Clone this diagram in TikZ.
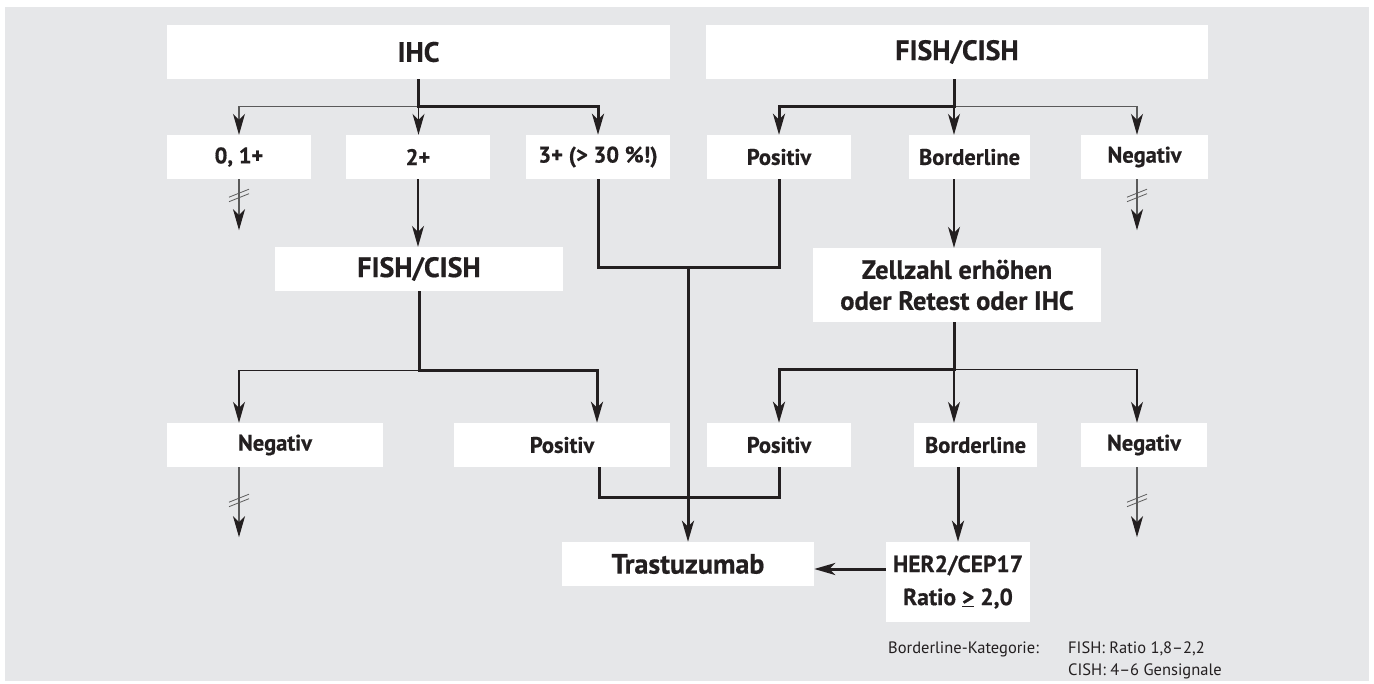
\documentclass[tikz,border=0pt]{standalone}
\usepackage{fontspec}
\setmainfont{PT Sans}
\newfontfamily\boxfont{PT Sans}[BoldFeatures={FakeBold=0.6}]
\usetikzlibrary{arrows.meta,calc}
\definecolor{bg}{HTML}{E6E7E9}
\definecolor{ink}{HTML}{231F20}
\definecolor{inkgray}{HTML}{5A5A5A}
\begin{document}
\begin{tikzpicture}[x=1pt,y=-1pt,
  wbox/.style={fill=white, draw=none, inner sep=0pt, text=ink, anchor=center,
    font=\boxfont\bfseries\fontsize{22.5}{26}\selectfont, minimum height=44pt},
  bigbox/.style={wbox, font=\boxfont\bfseries\fontsize{28}{33}\selectfont},
  legend/.style={inner sep=0pt, text=ink, anchor=base west, font=\fontsize{16.5}{19}\selectfont},
  thk/.style={draw=ink, line width=3pt, line join=miter},
  thn/.style={draw=ink, line width=1.1pt, line join=miter},
  thg/.style={draw=inkgray, line width=1.1pt, line join=miter},
  arrowhd/.style={-{Stealth[length=21pt,width=12pt,inset=6pt,color=ink]}},
  dslash/.pic={\draw[inkgray, line width=0.8pt] (-10,3) -- (10,-5) (-10,7.5) -- (10,-0.5);}
]
\useasboundingbox (0,0) rectangle (1374,684);
\fill[bg] (5,7) rectangle (1369,681);

% top row
\node[bigbox, minimum width=503pt, minimum height=54pt] (ihc) at (418.5,52) {IHC};
\node[bigbox, minimum width=502pt, minimum height=54pt] (fishtop) at (957,52) {FISH/CISH};

% second row
\node[wbox, minimum width=144pt] (r01) at (239,157) {0, 1+};
\node[wbox, minimum width=144pt] (r2) at (418,157) {2+};
\node[wbox, minimum width=144pt] (r3) at (598,157) {3+ (> 30 \%!)};
\node[wbox, minimum width=144pt] (pos1) at (779,157) {Positiv};
\node[wbox, minimum width=121pt] (bord1) at (969.5,157) {Borderline};
\node[wbox, minimum width=127pt] (neg1) at (1144.5,157) {Negativ};

% middle
\node[bigbox, minimum width=288pt] (fishmid) at (419,269) {FISH/CISH};
\node[bigbox, minimum width=288pt, minimum height=74pt, align=center,
      font=\boxfont\bfseries\fontsize{26.5}{31}\selectfont] (zell) at (957,285) {Zellzahl erhöhen\\oder Retest oder IHC};

% lower row
\node[wbox, minimum width=216pt] (neg2) at (275,445) {Negativ};
\node[wbox, minimum width=216pt] (pos2) at (562,445) {Positiv};
\node[wbox, minimum width=144pt] (pos3) at (779,445) {Positiv};
\node[wbox, minimum width=123pt] (bord2) at (975.5,445) {Borderline};
\node[wbox, minimum width=126pt] (neg3) at (1144,445) {Negativ};

% bottom
\node[bigbox, minimum width=252pt] (tras) at (688,564) {Trastuzumab};
\node[wbox, minimum width=144pt, minimum height=80pt, align=center,
      font=\boxfont\bfseries\fontsize{23.5}{33}\selectfont] (her) at (958,582) {HER2/CEP17\\Ratio \underline{>} 2,0};

% legend
\node[legend] (lg1) at (888,653) {Borderline-Kategorie:};
\node[legend] (lg2) at (1068,653) {FISH: Ratio 1,8–2,2};
\node[legend] (lg3) at (1068,675) {CISH: 4–6 Gensignale};

% ---- connectors: IHC
\coordinate (ihcb) at ($(ihc.south)+(0,27)$);
\draw[thg, arrowhd] (ihcb) -| (r01.north);
\draw[thn, arrowhd] (ihcb) -- (ihcb |- r2.north);
\draw[thk, arrowhd] (ihc.south) -- (ihcb) -| (r3.north);

% ---- connectors: FISH/CISH top
\coordinate (fb) at ($(fishtop.south)+(-3,27)$);
\coordinate (n1) at ($(neg1.north)+(-7.5,0)$);
\draw[thg, arrowhd] (fb) -| (n1);
\draw[thn, arrowhd] (fb) -- (fb |- bord1.north);
\draw[thk, arrowhd] (fb |- fishtop.south) -- (fb) -| (pos1.north);

% ---- dead ends of first row
\coordinate (e1) at ($(r01.south)+(0,51)$);
\draw[thg, arrowhd] (r01.south) -- (e1);
\pic at ($(r01.south)+(0,15)$) {dslash};
\coordinate (n1s) at ($(neg1.south)+(-7.5,0)$);
\coordinate (e2) at ($(n1s)+(0,51)$);
\draw[thg, arrowhd] (n1s) -- (e2);
\pic at ($(n1s)+(0,15)$) {dslash};

% ---- 2+ -> FISH/CISH, Borderline -> Zellzahl
\draw[thn, arrowhd] (r2.south) -- (r2.south |- fishmid.north);
\draw[thn, arrowhd] (fb |- bord1.south) -- (fb |- zell.north);

% ---- 3+ and Positiv -> Trastuzumab
\coordinate (j1) at (tras.north |- 0,268);
\draw[thk] (r3.south) |- (j1) -| (pos1.south);
\draw[thk, arrowhd] (j1) -- (tras.north);

% ---- FISH/CISH middle branches
\coordinate (mb) at ($(fishmid.south)+(0,79)$);
\coordinate (n2) at ($(neg2.north)+(-36,0)$);
\coordinate (p2) at ($(pos2.north)+(35,0)$);
\draw[thn, arrowhd] (mb) -| (n2);
\draw[thk, arrowhd] (fishmid.south) -- (mb) -| (p2);

% ---- Zellzahl branches
\coordinate (zb) at ($(zell.south)+(-3,47)$);
\coordinate (n3) at ($(neg3.north)+(-7,0)$);
\draw[thn] (zb) -| ($(n3)+(0,-15)$);
\draw[thg, arrowhd] ($(n3)+(0,-15)$) -- (n3);
\draw[thn, arrowhd] (zb) -- (zb |- bord2.north);
\draw[thk, arrowhd] (zb |- zell.south) -- (zb) -| (pos3.north);

% ---- lower Positiv boxes merge
\coordinate (p2s) at ($(pos2.south)+(37,0)$);
\draw[thk] (p2s) -- ++(0,30) -| (pos3.south);

% ---- lower dead ends
\coordinate (n2s) at ($(neg2.south)+(-36,0)$);
\coordinate (e3) at ($(n2s)+(0,70)$);
\draw[thg, arrowhd] (n2s) -- (e3);
\pic at ($(n2s)+(0,32)$) {dslash};
\coordinate (n3s) at ($(neg3.south)+(-7,0)$);
\coordinate (e4) at ($(n3s)+(0,70)$);
\draw[thg, arrowhd] (n3s) -- (e4);
\pic at ($(n3s)+(0,32)$) {dslash};

% ---- Borderline -> HER2, HER2 -> Trastuzumab
\draw[thk, arrowhd] (bord2.south -| her.north) -- (her.north);
\coordinate (h1) at ($(her.west)+(0,-13)$);
\draw[thk, arrowhd] (h1) -- (h1 -| tras.east);
\end{tikzpicture}
\end{document}
